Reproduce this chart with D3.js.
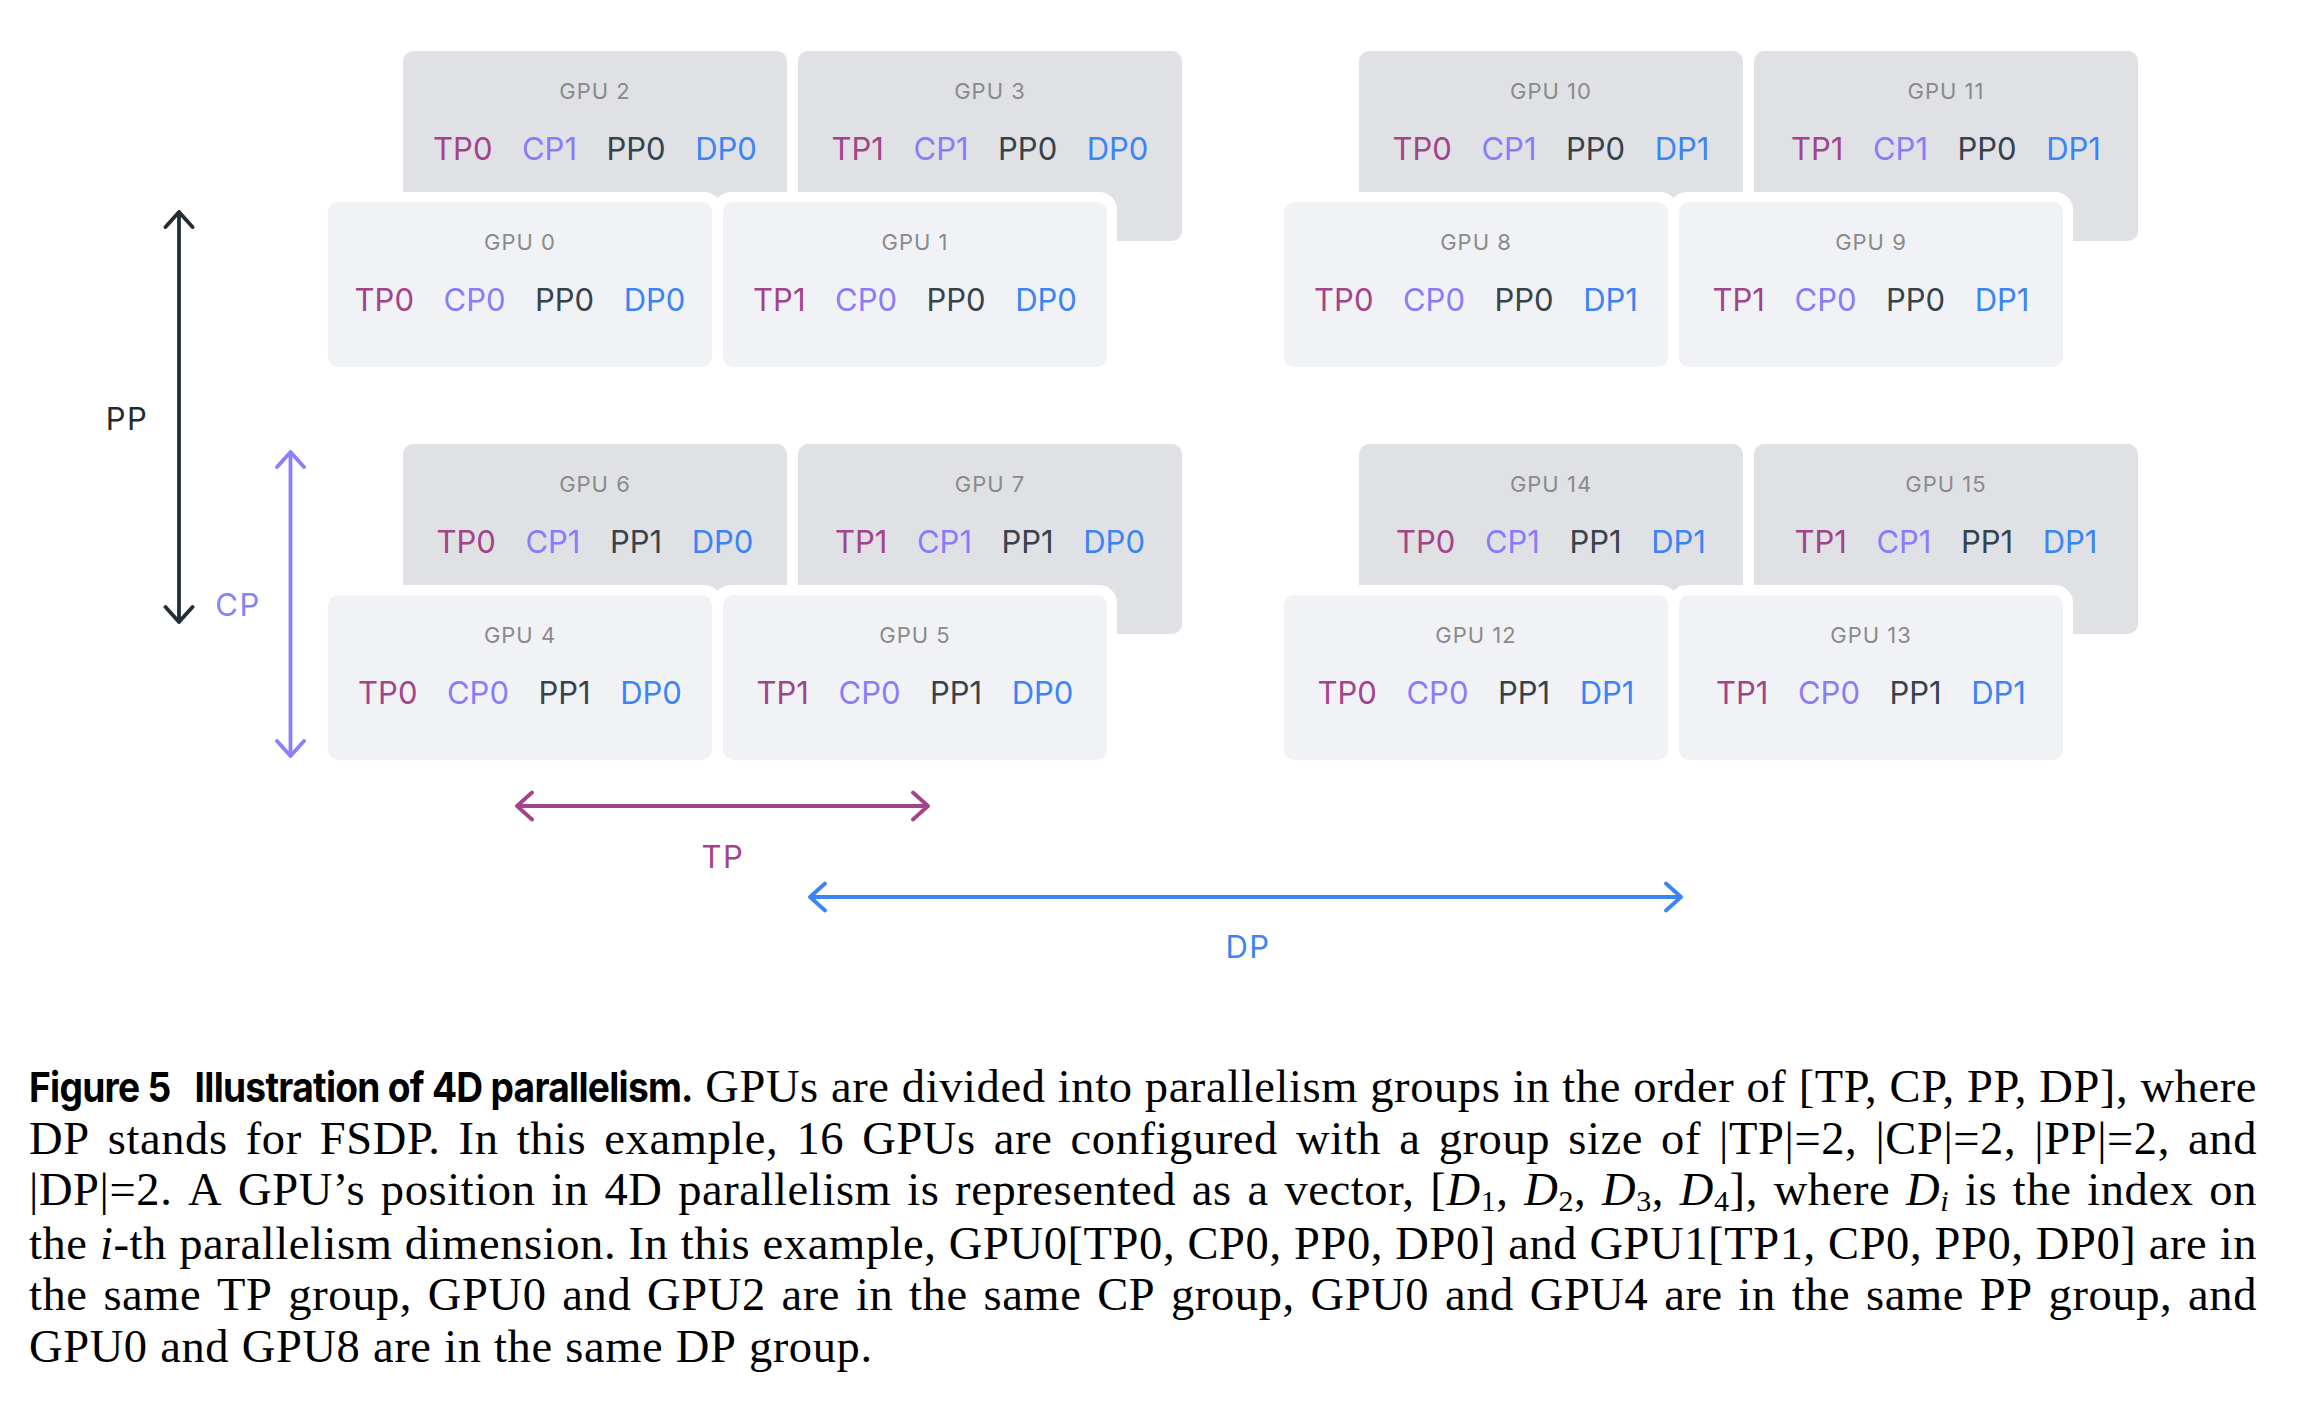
<!DOCTYPE html>
<html><head><meta charset="utf-8">
<script src="https://cdn.jsdelivr.net/npm/d3@7"></script>
<style>
html,body{margin:0;padding:0;background:#fff;}
svg{display:block;}
</style></head><body>
<svg id="chart" width="2298" height="1402"></svg>
<script>
// ---------------- DATA ----------------
const gpuIds   = [0,1,2,3,4,5,6,7,8,9,10,11,12,13,14,15];
const tpIndex  = [0,1,0,1,0,1,0,1,0,1,0,1,0,1,0,1];
const cpIndex  = [0,0,1,1,0,0,1,1,0,0,1,1,0,0,1,1];
const ppIndex  = [0,0,0,0,1,1,1,1,0,0,0,0,1,1,1,1];
const dpIndex  = [0,0,0,0,0,0,0,0,1,1,1,1,1,1,1,1];
const dimNames = ["TP","CP","PP","DP"];

const captionBoldA = "Figure 5";
const captionBoldB = "Illustration of 4D parallelism.";
const captionLines = [
  "GPUs are divided into parallelism groups in the order of [TP, CP, PP, DP], where",
  "DP stands for FSDP. In this example, 16 GPUs are configured with a group size of |TP|=2, |CP|=2, |PP|=2, and",
  "|DP|=2. A GPU’s position in 4D parallelism is represented as a vector, [⟨D⟩⌊1⌋, ⟨D⟩⌊2⌋, ⟨D⟩⌊3⌋, ⟨D⟩⌊4⌋], where ⟨D⟩⌈i⌉ is the index on",
  "the ⟨i⟩-th parallelism dimension. In this example, GPU0[TP0, CP0, PP0, DP0] and GPU1[TP1, CP0, PP0, DP0] are in",
  "the same TP group, GPU0 and GPU2 are in the same CP group, GPU0 and GPU4 are in the same PP group, and",
  "GPU0 and GPU8 are in the same DP group."
];

// ---------------- STYLE / LAYOUT ----------------
const colors = {TP:"#a3438a", CP:"#8a7cf8", PP:"#36424c", DP:"#3b84f5"};
const arrowColors = {TP:"#a3438a", CP:"#8a80f9", PP:"#232d36", DP:"#3b84f5"};
const labelColors = {TP:"#a3438a", CP:"#8a80f9", PP:"#1f2a33", DP:"#3b84f5"};
const FONT = "Inter, 'Noto Sans', sans-serif";
const frontW = 384, frontH = 165, backH = 190, rx = 10, halo = 10;

const svg = d3.select("#chart");

const xDP = d3.scaleLinear().domain([0,1]).range([328, 1284]);
const xTP = d3.scaleLinear().domain([0,1]).range([0, 395]);
const xCP = d3.scaleLinear().domain([0,1]).range([0, 75]);
const yPP = d3.scaleLinear().domain([0,1]).range([202, 595]);
const yCP = d3.scaleLinear().domain([0,1]).range([0, -151]);

const gpus = gpuIds.map((id,i) => ({
  id, tp: tpIndex[i], cp: cpIndex[i], pp: ppIndex[i], dp: dpIndex[i]
})).map(d => ({...d,
  x: xDP(d.dp) + xTP(d.tp) + xCP(d.cp),
  y: yPP(d.pp) + yCP(d.cp),
  h: d.cp ? backH : frontH
}));

const back = gpus.filter(d => d.cp === 1);
const front = gpus.filter(d => d.cp === 0);

const gBack = svg.append("g");
gBack.selectAll("rect").data(back).join("rect")
  .attr("x", d => d.x).attr("y", d => d.y)
  .attr("width", frontW).attr("height", d => d.h)
  .attr("rx", rx).attr("fill", "#dfe1e5");

svg.append("g").selectAll("rect").data(front).join("rect")
  .attr("x", d => d.x - halo).attr("y", d => d.y - halo)
  .attr("width", frontW + 2*halo).attr("height", d => d.h + 2*halo)
  .attr("rx", 18).attr("fill", "#ffffff");

const gFront = svg.append("g");
gFront.selectAll("rect").data(front).join("rect")
  .attr("x", d => d.x).attr("y", d => d.y)
  .attr("width", frontW).attr("height", d => d.h)
  .attr("rx", rx).attr("fill", "#f1f2f5");

function drawBoxText(g, data) {
  g.selectAll("text.gpu").data(data).join("text")
    .attr("class","gpu")
    .attr("x", d => d.x + frontW/2).attr("y", d => d.y + 48)
    .attr("text-anchor","middle")
    .attr("font-family", FONT).attr("font-size", 22)
    .attr("letter-spacing", 1)
    .attr("fill", "#8a8a8a")
    .text(d => "GPU " + d.id);
  const t = g.selectAll("text.tok").data(data).join("text")
    .attr("class","tok")
    .attr("x", d => d.x + frontW/2).attr("y", d => d.y + 109)
    .attr("text-anchor","middle")
    .attr("font-family", FONT).attr("font-size", 31);
  t.each(function(d){
    const sel = d3.select(this);
    dimNames.forEach((dim,k) => {
      sel.append("tspan")
        .attr("dx", k ? 29.5 : 0)
        .attr("fill", colors[dim])
        .text(dim + d[dim.toLowerCase()]);
    });
  });
}
drawBoxText(gBack, back);
drawBoxText(gFront, front);

// ---------------- ARROWS ----------------
const arrows = [
  {dim:"PP", v:true,  c:179,   a:yPP(0)+10,  b:yPP(1)+27,  lx:127,  ly:430},
  {dim:"CP", v:true,  c:290.5, a:yPP(1)-143, b:yPP(1)+161, lx:238,  ly:616},
  {dim:"TP", v:false, c:806,   a:517,        b:928,        lx:723,  ly:868},
  {dim:"DP", v:false, c:897,   a:810,        b:1681,       lx:1248, ly:958}
];
const hw = 13.5, hd = 15;
function arrowPath(d) {
  const p = d3.path();
  if (d.v) {
    p.moveTo(d.c, d.a); p.lineTo(d.c, d.b);
    p.moveTo(d.c-hw, d.a+hd); p.lineTo(d.c, d.a); p.lineTo(d.c+hw, d.a+hd);
    p.moveTo(d.c-hw, d.b-hd); p.lineTo(d.c, d.b); p.lineTo(d.c+hw, d.b-hd);
  } else {
    p.moveTo(d.a, d.c); p.lineTo(d.b, d.c);
    p.moveTo(d.a+hd, d.c-hw); p.lineTo(d.a, d.c); p.lineTo(d.a+hd, d.c+hw);
    p.moveTo(d.b-hd, d.c-hw); p.lineTo(d.b, d.c); p.lineTo(d.b-hd, d.c+hw);
  }
  return p.toString();
}
const gA = svg.append("g");
gA.selectAll("path").data(arrows).join("path")
  .attr("d", arrowPath).attr("fill","none")
  .attr("stroke", d => arrowColors[d.dim]).attr("stroke-width", 3.8)
  .attr("stroke-linecap","round").attr("stroke-linejoin","round");
gA.selectAll("text").data(arrows).join("text")
  .attr("x", d => d.lx).attr("y", d => d.ly)
  .attr("text-anchor","middle")
  .attr("font-family", FONT).attr("font-size", 31)
  .attr("letter-spacing", 1.5)
  .attr("fill", d => labelColors[d.dim])
  .text(d => d.dim);

// ---------------- CAPTION ----------------
const SERIF = "'Liberation Serif', 'Times New Roman', serif";
const capFS = 46.5, subFS = 30, subDy = 6;
const capX0 = 29, capX1 = 2257;
const capBaselines = [1102, 1154, 1205, 1259, 1310, 1362];
const gC = svg.append("g").attr("fill","#000");

function parseWord(w) {
  const re = /⟨([^⟩]*)⟩|⌊([^⌋]*)⌋|⌈([^⌉]*)⌉|([^⟨⌊⌈]+)/g;
  const runs = []; let m;
  while ((m = re.exec(w)) !== null) {
    if (m[1] !== undefined) runs.push({t:m[1], it:true});
    else if (m[2] !== undefined) runs.push({t:m[2], sub:true});
    else if (m[3] !== undefined) runs.push({t:m[3], sub:true, it:true});
    else runs.push({t:m[4]});
  }
  return runs;
}
function makeWord(w, y) {
  const t = gC.append("text").attr("y", y)
    .attr("font-family", SERIF).attr("font-size", capFS)
    .attr("letter-spacing", 0.6);
  let shifted = false;
  parseWord(w).forEach(r => {
    const ts = t.append("tspan").text(r.t);
    if (r.it) ts.attr("font-style","italic");
    if (r.sub) { ts.attr("font-size", subFS); if (!shifted) { ts.attr("dy", subDy); shifted = true; } }
    else if (shifted) { ts.attr("dy", -subDy); shifted = false; }
  });
  return t;
}
function makeBold(str, y) {
  const g = gC.append("g");
  const t = g.append("text").attr("x", 0).attr("y", 0)
    .attr("font-family", "Inter, 'Liberation Sans', sans-serif")
    .attr("font-weight", 700).attr("font-size", 41)
    .attr("letter-spacing", -0.8)
    .text(str);
  return {g, t, y};
}
captionLines.forEach((line, li) => {
  const y = capBaselines[li];
  const items = [];
  if (li === 0) {
    // bold heading, horizontally condensed to the reference width
    const A = makeBold(captionBoldA, y), B = makeBold(captionBoldB, y);
    const wA = A.t.node().getComputedTextLength();
    const wB = B.t.node().getComputedTextLength();
    const target = 664, innerGap = 24;
    const sx = Math.min(1, (target - innerGap) / (wA + wB));
    A.g.attr("transform", `translate(${capX0},${y}) scale(${sx},1)`);
    B.g.attr("transform", `translate(${capX0 + wA*sx + innerGap},${y}) scale(${sx},1)`);
    items.push({sel:null, w: target});
  }
  line.split(" ").forEach(w => {
    const s = makeWord(w, y);
    items.push({sel:s, w: s.node().getComputedTextLength()});
  });
  const total = d3.sum(items, d => d.w);
  const justify = li < captionLines.length - 1;
  const gap = justify ? (capX1 - capX0 - total) / (items.length - 1) : capFS * 0.27;
  let x = capX0;
  items.forEach(it => { if (it.sel) it.sel.attr("x", x); x += it.w + gap; });
});
</script>
</body></html>
